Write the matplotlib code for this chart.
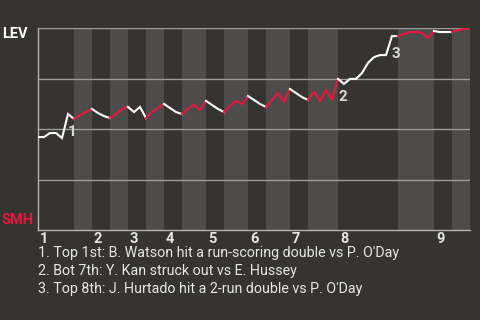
import matplotlib.pyplot as plt
import numpy as np

# plate appearances per half inning (top 1st, bot 1st, ..., bot 9th)
half_pa = [6, 3, 3, 3, 3, 3, 3, 4, 3, 4, 3, 4, 3, 5, 10, 6, 3, 3]

# LEV win probability (%) after each plate appearance
win_prob = [46.0, 46.0, 48.0, 48.0, 45.5, 57.4, 55.0,
            56.9, 58.4, 59.9,
            57.9, 56.4, 55.4,
            57.4, 59.9, 60.9,
            58.4, 60.9, 55.4,
            58.4, 60.4, 62.4,
            60.4, 58.4, 57.4,
            59.9, 61.9, 59.4, 63.9,
            61.9, 59.9, 58.4,
            61.4, 63.9, 62.4, 66.3,
            64.4, 62.4, 60.9,
            64.4, 67.8, 63.4, 69.8,
            67.8, 65.8, 64.4,
            68.3, 63.9, 69.3, 64.4, 74.8,
            72.3, 74.8, 74.8, 77.7, 82.7, 85.6, 86.6, 86.6, 96.0, 96.0,
            97.0, 98.0, 98.0, 97.5, 95.0, 98.5,
            98.0, 98.0, 98.0,
            99.0, 99.5, 100.0]

innings = [str(i) for i in range(1, 10)]

# key plays: (index of plate appearance, label)
key_idx = [5, 50, 59]
key_labels = ['1', '2', '3']
key_text = [
    "1. Top 1st: B. Watson hit a run-scoring double vs P. O'Day",
    "2. Bot 7th: Y. Kan struck out vs E. Hussey",
    "3. Top 8th: J. Hurtado hit a 2-run double vs P. O'Day",
]

BG = '#363430'
STRIPE = '#4d4c4a'
RED = '#e8173f'
TXT = '#e6e6e6'

plt.rcParams['font.family'] = ['Roboto', 'DejaVu Sans']

fig = plt.figure(figsize=(4.8, 3.2), dpi=100, facecolor=BG)
ax = fig.add_axes([38 / 480, 90 / 320, 432 / 480, 202 / 320], facecolor=BG)

bounds = np.concatenate([[0], np.cumsum(half_pa)])
x = np.arange(len(win_prob))

# shade bottom halves
for h in range(len(half_pa)):
    if h % 2 == 1:
        ax.axvspan(bounds[h], bounds[h + 1], color=STRIPE, lw=0, zorder=0)

for yv in [25, 50, 75, 100]:
    ax.axhline(yv, color='#9b9b9b', lw=1, zorder=1)

# line, coloured by half inning
for h in range(len(half_pa)):
    a, b = bounds[h], bounds[h + 1]
    ax.plot(x[a:b + 1], win_prob[a:b + 1], color='white' if h % 2 == 0 else RED,
            lw=1.5, zorder=3, solid_joinstyle='miter')

for i, lab in zip(key_idx, key_labels):
    ax.annotate(lab, (x[i], win_prob[i]), xytext=(0, -11), textcoords='offset pixels',
                ha='left', va='top', fontsize=11, fontweight='bold', color='#d8d8d8', zorder=4)

# inning labels at start of each top half
for n, lab in enumerate(innings):
    ax.annotate(lab, (bounds[2 * n], 0), xytext=(2, -2), textcoords='offset pixels',
                ha='left', va='top', fontsize=10.5, fontweight='bold', color=TXT,
                annotation_clip=False)

ax.set_xlim(0, len(win_prob) - 1)
ax.set_ylim(0, 100)
ax.set_xticks([])
ax.set_yticks([])
for s in ['top', 'right']:
    ax.spines[s].set_visible(False)
for s in ['left', 'bottom']:
    ax.spines[s].set_color('#b5b5b5')
    ax.spines[s].set_linewidth(1)

fig.text(2 / 480, 1 - 34 / 320, 'LEV', color='white', fontsize=10.5, fontweight='bold', va='center')
fig.text(2 / 480, 1 - 220 / 320, 'SMH', color=RED, fontsize=10.5, fontweight='bold', va='center')

for k, t in enumerate(key_text):
    fig.text(38 / 480, 1 - (253 + 18 * k) / 320, t, color=TXT, fontsize=10.3, va='center')

fig.savefig('out.png', dpi=100, facecolor=BG)
